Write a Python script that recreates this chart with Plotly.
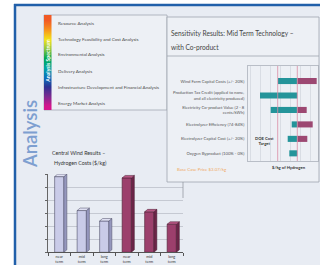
import plotly.graph_objects as go

W, H = 320, 265
def fx(p): return p / W
def fy(p): return 1 - p / H

# ---------------- data ----------------
spectrum_items = ["Resource Analysis", "Technology Feasibility and Cost Analysis",
                  "Environmental Analysis", "Delivery Analysis",
                  "Infrastructure Development and Financial Analysis",
                  "Energy Market Analysis"]
spectrum_colors = ["#f15a24", "#f7941d", "#f2e21a", "#8dc63f", "#00a651",
                   "#00a5a0", "#0a72bb", "#2e3192", "#7b2a90", "#d4148c"]

sens_labels = ["Wind Farm Capital Costs (+/- 20%)",
               "Production Tax Credit (applied to none,<br>and all electricity produced)",
               "Electricity Co-product Value (2 - 8<br>cents/kWh)",
               "Electrolyzer Efficiency (74-84%)",
               "Electrolyzer Capital Cost (+/- 20%)",
               "Oxygen Byproduct (100% - 0%)"]
sens_low = [2.877, 2.697, 2.804, 3.014, 2.974, 2.990]
sens_high = [3.264, 3.070, 3.164, 3.224, 3.170, 3.070]
base_price = 3.07
doe_target = 2.874

wind_terms = ["near<br>term", "mid<br>term", "long<br>term",
              "near<br>term", "mid<br>term", "long<br>term"]
wind_case_a = [5.8, 3.2, 2.4]
wind_case_b = [5.7, 3.1, 2.15]

BG = "#e8ecf3"
PANEL = "#edf0f5"
TEAL = "#24949a"
MAROON = "#9c4872"
FONT = "Lato"

fig = go.Figure()

# ---------------- sensitivity bars ----------------
rows = list(range(len(sens_labels)))
fig.add_trace(go.Bar(y=rows, x=[base_price - l for l in sens_low], base=sens_low,
                     orientation="h", width=0.42, marker=dict(color=TEAL, line=dict(width=0)),
                     xaxis="x", yaxis="y", hoverinfo="skip"))
fig.add_trace(go.Bar(y=rows, x=[h - base_price for h in sens_high], base=[base_price] * len(rows),
                     orientation="h", width=0.42, marker=dict(color=MAROON, line=dict(width=0)),
                     xaxis="x", yaxis="y", hoverinfo="skip"))

# ---------------- central wind bars ----------------
xa = list(range(len(wind_case_a)))
xb = [len(wind_case_a) + i for i in range(len(wind_case_b))]
BW = 0.41
fig.add_trace(go.Bar(x=xa, y=wind_case_a, width=BW,
                     marker=dict(color="#c9cbe8", line=dict(color="#4d4d66", width=0.6)),
                     xaxis="x2", yaxis="y2", hoverinfo="skip"))
fig.add_trace(go.Bar(x=xb, y=wind_case_b, width=BW,
                     marker=dict(color="#9c3f6c", line=dict(color="#4a1f33", width=0.6)),
                     xaxis="x2", yaxis="y2", hoverinfo="skip"))

# ---------------- rainbow strip ----------------
fig.add_trace(go.Heatmap(z=[[i] for i in range(len(spectrum_colors))],
                         colorscale=[[i / (len(spectrum_colors) - 1), c] for i, c in enumerate(spectrum_colors)],
                         zsmooth="best", showscale=False, hoverinfo="skip",
                         xaxis="x3", yaxis="y3"))

shapes = []
# background frame
shapes.append(dict(type="rect", xref="paper", yref="paper", x0=fx(15), x1=1, y0=0, y1=fy(5),
                   fillcolor=BG, line=dict(width=0), layer="below"))
shapes.append(dict(type="line", xref="paper", yref="paper", x0=fx(15), x1=fx(15), y0=0, y1=fy(4),
                   line=dict(color="#2160aa", width=2.5)))
shapes.append(dict(type="line", xref="paper", yref="paper", x0=fx(14), x1=1, y0=fy(5), y1=fy(5),
                   line=dict(color="#2160aa", width=2.5)))
# spectrum panel
shapes.append(dict(type="rect", xref="paper", yref="paper", x0=fx(44), x1=fx(167), y0=fy(110), y1=fy(15),
                   fillcolor=PANEL, line=dict(color="#a2a8b2", width=0.8), layer="below"))
# sensitivity panel
shapes.append(dict(type="rect", xref="paper", yref="paper", x0=fx(167), x1=fx(319), y0=fy(182), y1=fy(17),
                   fillcolor=PANEL, line=dict(width=0), layer="below"))
shapes.append(dict(type="rect", xref="paper", yref="paper", x0=fx(167.5), x1=fx(184), y0=fy(181.5), y1=fy(168),
                   fillcolor=PANEL, line=dict(width=0), layer="above"))
shapes.append(dict(type="rect", xref="paper", yref="paper", x0=fx(167), x1=fx(319), y0=fy(182), y1=fy(17),
                   fillcolor="rgba(0,0,0,0)", line=dict(color="#9ea4ae", width=0.8), layer="above"))
shapes.append(dict(type="line", xref="paper", yref="paper", x0=fx(167), x1=fx(319), y0=fy(56), y1=fy(56),
                   line=dict(color="#9ea4ae", width=0.8)))
# central chart right wall edge
shapes.append(dict(type="line", xref="paper", yref="paper", x0=fx(183), x1=fx(183), y0=fy(198), y1=fy(182),
                   line=dict(color="#8a8f99", width=0.7)))
# reference lines
for v in (doe_target, base_price):
    shapes.append(dict(type="line", xref="x", yref="y domain", x0=v, x1=v, y0=0, y1=1,
                       line=dict(color="#d98aa3", width=0.8)))

# 3-D faces for the central wind bars
DX, DY = 0.133, 0.19
def faces(xs, ys, side, top, edge):
    for x, v in zip(xs, ys):
        l, r = x - BW / 2, x + BW / 2
        shapes.append(dict(type="path", xref="x2", yref="y2",
                           path=f"M{r},0 L{r+DX},{DY} L{r+DX},{v+DY} L{r},{v} Z",
                           fillcolor=side, line=dict(color=edge, width=0.5), layer="above"))
        shapes.append(dict(type="path", xref="x2", yref="y2",
                           path=f"M{l},{v} L{l+DX},{v+DY} L{r+DX},{v+DY} L{r},{v} Z",
                           fillcolor=top, line=dict(color=edge, width=0.5), layer="above"))
faces(xa, wind_case_a, "#9597bd", "#dfe0f2", "#4d4d66")
faces(xb, wind_case_b, "#6b2447", "#b65683", "#4a1f33")

ann = []
def A(text, x, y, size, color="#444", xanchor="left", angle=0, weight="normal"):
    ann.append(dict(text=text, x=fx(x), y=fy(y), xref="paper", yref="paper", showarrow=False,
                    xanchor=xanchor, yanchor="middle", textangle=angle,
                    font=dict(family=FONT, size=size, color=color, weight=weight)))

for item, yy in zip(spectrum_items, [23, 39, 54, 71, 87, 103]):
    A(item, 56, yy, 4.6, "#4a4a4a")
A("Analysis Spectrum", 47.8, 61, 5.2, "white", "center", -90, "bold")
A("Analysis", 30, 134, 18.5, "#7e9fd0", "center", -90, 600)

A("Sensitivity Results: Mid Term Technology –", 169, 33, 6.6, "#444")
A("with Co-product", 169, 47, 6.6, "#444")
A("DOE Cost<br>Target", 253, 141, 4.2, "#333", weight="bold")
A("$/kg of Hydrogen", 289, 167, 4.2, "#333", "center", weight="bold")
A("Base Case Price $3.07/kg", 175, 169, 4.4, "#f0a860")
A("Central Wind Results –", 50, 153, 5.3, "#333")
A("Hydrogen Costs ($/kg)", 52, 163, 5.3, "#333")

fig.update_layout(
    width=W, height=H, margin=dict(l=0, r=0, t=0, b=0),
    paper_bgcolor="white", plot_bgcolor="rgba(0,0,0,0)", showlegend=False,
    barmode="overlay", shapes=shapes, annotations=ann,
    font=dict(family=FONT),
    xaxis=dict(domain=[fx(248), fx(318)], range=[2.577, 3.277], dtick=0.1, tick0=2.6,
               showgrid=True, gridcolor="#d9dde4", gridwidth=0.6, zeroline=False,
               showticklabels=False, showline=True, linecolor="#b9bec7", linewidth=0.7, mirror=True),
    yaxis=dict(domain=[fy(161), fy(66)], range=[5.53, -1.04], tickvals=rows, ticktext=sens_labels,
               showgrid=False, zeroline=False, showline=True, linecolor="#b9bec7", linewidth=0.7,
               mirror=True, ticks="", ticklabelstandoff=2,
               tickfont=dict(family=FONT, size=4.2, color="#555")),
    xaxis2=dict(domain=[fx(48), fx(183)], range=[-0.5, 5.5], tickvals=xa + xb, ticktext=wind_terms,
                showgrid=False, zeroline=False, showline=True, linecolor="#555", linewidth=0.8,
                ticks="", minor=dict(ticks="outside", tickvals=[i - 0.5 for i in range(7)],
                                     ticklen=3, tickcolor="#555"),
                tickfont=dict(family=FONT, size=3.8, color="#333"), anchor="y2"),
    yaxis2=dict(domain=[fy(252.3), fy(174)], range=[0, 6], dtick=1, showgrid=True,
                gridcolor="#c5c9d2", gridwidth=0.6, zeroline=False, showline=True, linecolor="#666",
                linewidth=0.8, ticks="outside", ticklen=2.5, tickcolor="#666",
                showticklabels=False, anchor="x2"),
    xaxis3=dict(domain=[fx(44), fx(51.5)], visible=False, anchor="y3"),
    yaxis3=dict(domain=[fy(110), fy(15)], visible=False, autorange="reversed", anchor="x3"),
)

fig.write_html("out.html", config={"displayModeBar": False},
               post_script="document.body.style.margin='0';")
